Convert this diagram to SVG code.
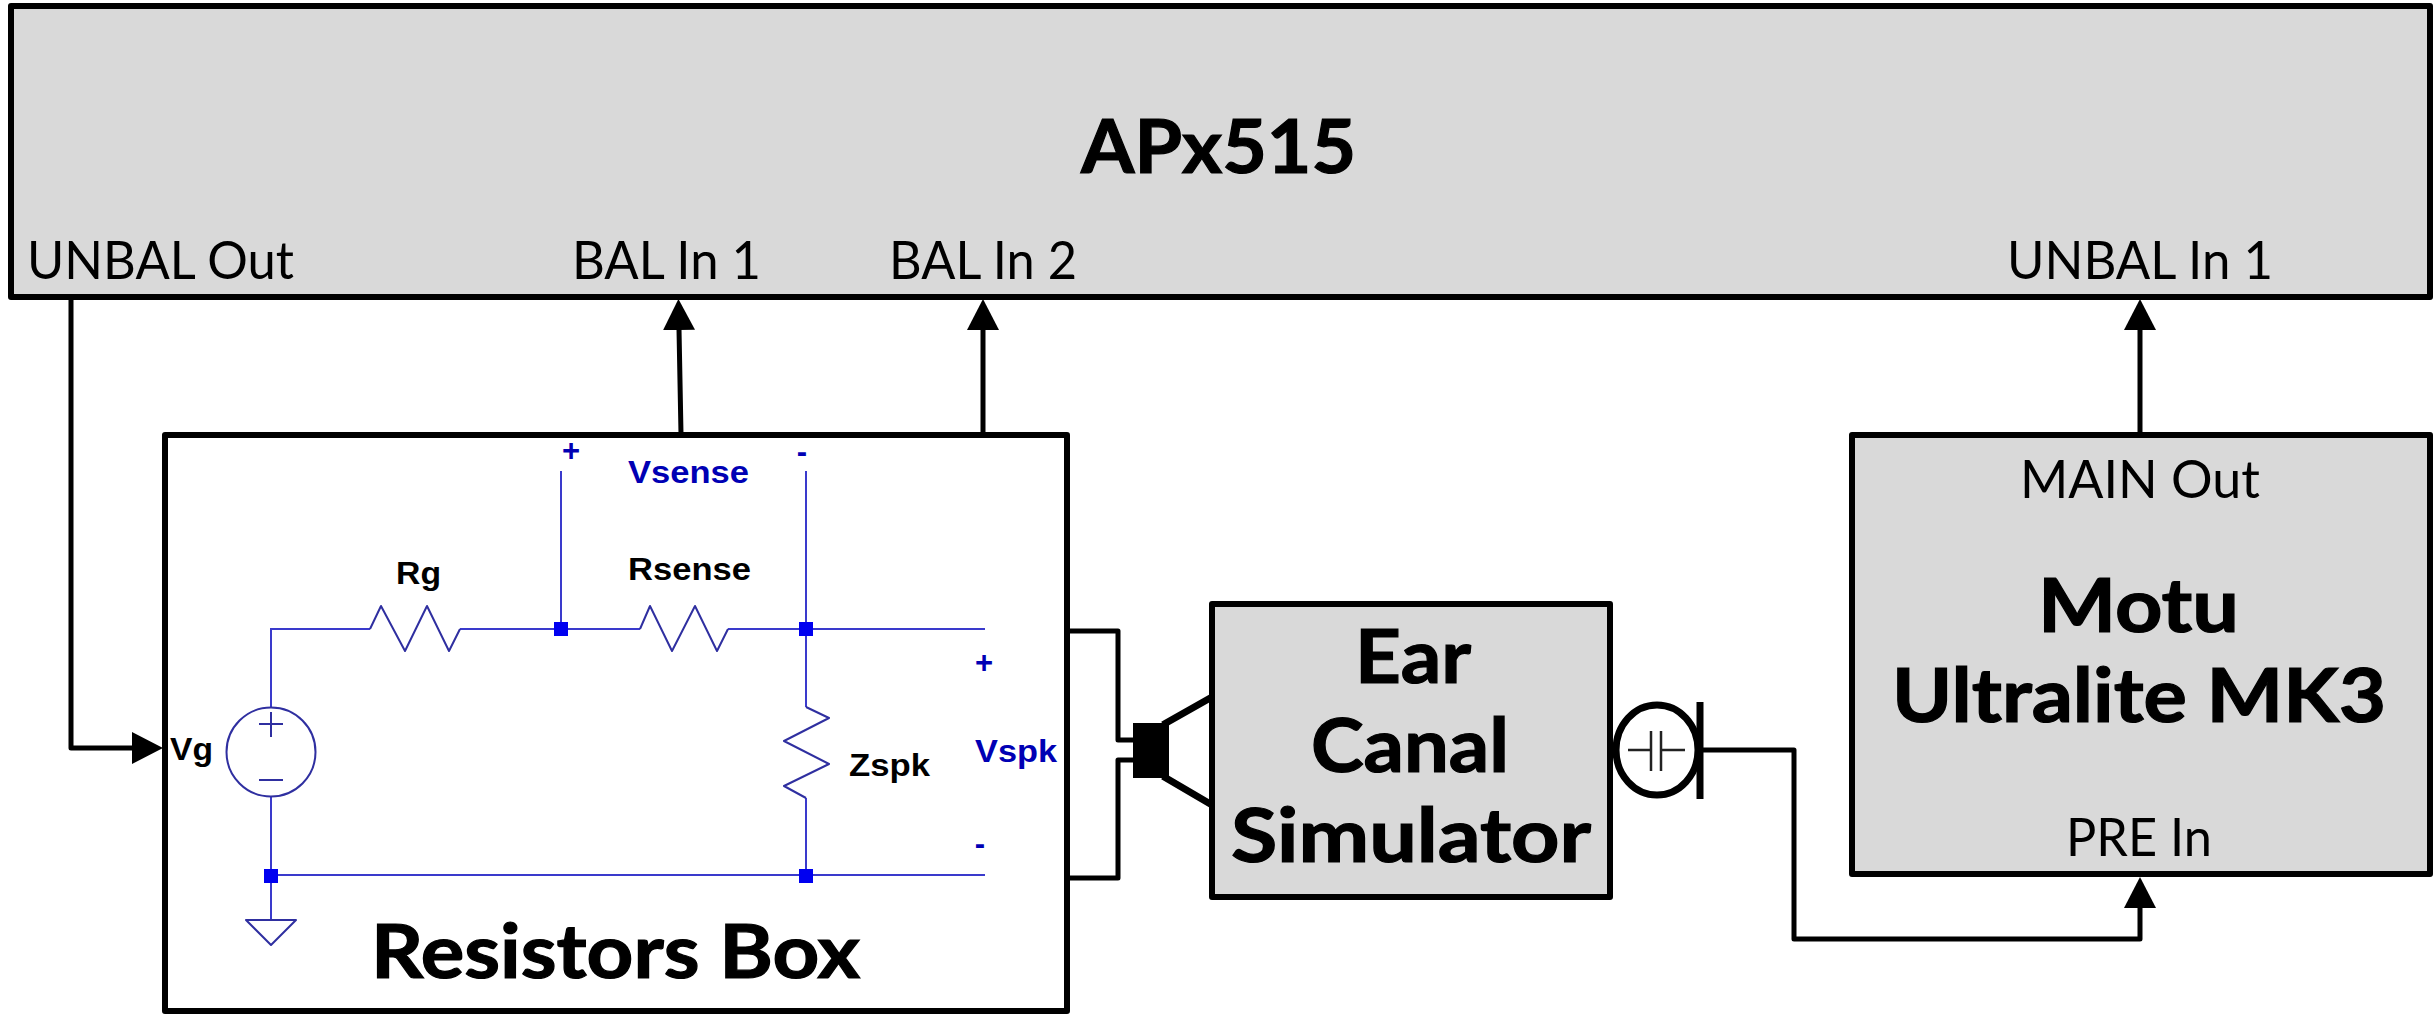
<svg xmlns="http://www.w3.org/2000/svg" width="2433" height="1016" viewBox="0 0 2433 1016">
<style>
.box{stroke:#000;stroke-width:6;stroke-linejoin:round}
.grey{fill:#d9d9d9}
.white{fill:#fff}
.t{font-family:Lato,"Open Sans","Liberation Sans",sans-serif;fill:#000}
.port{font-size:52px}
.big{font-size:74px;font-weight:700;stroke:#000;stroke-width:1.2px}
.sch{font-family:"Liberation Sans",Arial,sans-serif;font-size:31px;font-weight:700;fill:#000}
.blue{fill:#0000b4}
.wire{fill:none;stroke:#000;stroke-width:5;stroke-linejoin:round;stroke-linecap:square}
.b{fill:none;stroke:#3a3acc;stroke-width:2}
.r{fill:none;stroke:#2f2fa0;stroke-width:2;stroke-linejoin:round}
.dot{fill:#0000f0}
</style>
<defs>
<marker id="arrow" markerUnits="userSpaceOnUse" markerWidth="32" markerHeight="34" refX="1" refY="17" orient="auto" viewBox="0 0 32 34"><path d="M31 17L0 1V33Z" fill="#000"/></marker>
</defs>
<g id="apx515">
<rect class="box grey" x="11" y="6" width="2419" height="291"/>
<text class="t big" x="1081" y="173" textLength="275" lengthAdjust="spacingAndGlyphs">APx515</text>
<text class="t port" x="27" y="279" textLength="267" lengthAdjust="spacingAndGlyphs">UNBAL Out</text>
<text class="t port" x="572" y="279" textLength="189" lengthAdjust="spacingAndGlyphs">BAL In 1</text>
<text class="t port" x="889" y="279" textLength="188" lengthAdjust="spacingAndGlyphs">BAL In 2</text>
<text class="t port" x="2007" y="279" textLength="266" lengthAdjust="spacingAndGlyphs">UNBAL In 1</text>
</g>
<g id="resistors-box">
<rect class="box white" x="165" y="435" width="902" height="576"/>
<text class="t big" x="371" y="978" textLength="489" lengthAdjust="spacingAndGlyphs">Resistors Box</text>
<g id="schematic">
<path class="b" d="M271 707V629H370M460 629H640M728 629H985M561 629V471M806 471V707M806 798V875M271 796V875M271 875H985M271 875V920"/>
<path class="r" d="M370 629L381 606L405 651L427 606L449 651L460 629M640 629L650 606L672 651L695 606L717 651L728 629M806 707L829 718L784 741L829 764L784 786L806 798"/>
<circle class="r" cx="271" cy="752" r="44.5"/>
<path class="r" d="M271 712V737M259 724H283M259 780H283M246 920H296L271 945Z"/>
<rect class="dot" x="554" y="622" width="14" height="14"/>
<rect class="dot" x="799" y="622" width="14" height="14"/>
<rect class="dot" x="264" y="869" width="14" height="14"/>
<rect class="dot" x="799" y="869" width="14" height="14"/>
<text class="sch" x="396" y="584" textLength="45" lengthAdjust="spacingAndGlyphs">Rg</text>
<text class="sch" x="628" y="580" textLength="123" lengthAdjust="spacingAndGlyphs">Rsense</text>
<text class="sch" x="170" y="760" textLength="43" lengthAdjust="spacingAndGlyphs">Vg</text>
<text class="sch" x="849" y="776" textLength="81" lengthAdjust="spacingAndGlyphs">Zspk</text>
<text class="sch blue" x="628" y="483" textLength="121" lengthAdjust="spacingAndGlyphs">Vsense</text>
<text class="sch blue" x="975" y="762" textLength="82" lengthAdjust="spacingAndGlyphs">Vspk</text>
<text class="sch blue" x="571" y="461" text-anchor="middle">+</text>
<text class="sch blue" x="802" y="462" text-anchor="middle">-</text>
<text class="sch blue" x="984" y="673" text-anchor="middle">+</text>
<text class="sch blue" x="980" y="854" text-anchor="middle">-</text>
</g>
</g>
<g id="speaker">
<rect x="1133" y="723" width="36" height="55" fill="#000"/>
<path class="wire" d="M1166 723L1212 697M1166 778L1212 805" style="stroke-width:7"/>
</g>
<g id="ear-canal-simulator">
<rect class="box grey" x="1212" y="604" width="398" height="293"/>
<text class="t big" x="1355" y="683" textLength="116" lengthAdjust="spacingAndGlyphs">Ear</text>
<text class="t big" x="1311" y="772" textLength="198" lengthAdjust="spacingAndGlyphs">Canal</text>
<text class="t big" x="1231" y="862" textLength="360" lengthAdjust="spacingAndGlyphs">Simulator</text>
</g>
<g id="microphone">
<ellipse cx="1657" cy="750" rx="41" ry="45" fill="#fff" stroke="#000" stroke-width="7"/>
<path d="M1628 750H1651M1661 750H1685M1651 731V771M1661 731V771" fill="none" stroke="#222" stroke-width="2.5"/>
<path d="M1700 702V799" fill="none" stroke="#000" stroke-width="7"/>
</g>
<g id="motu">
<rect class="box grey" x="1852" y="435" width="578" height="439"/>
<text class="t port" x="2020" y="498" textLength="240" lengthAdjust="spacingAndGlyphs">MAIN Out</text>
<text class="t big" x="2038" y="632" textLength="201" lengthAdjust="spacingAndGlyphs">Motu</text>
<text class="t big" x="1892" y="722" textLength="494" lengthAdjust="spacingAndGlyphs">Ultralite MK3</text>
<text class="t port" x="2066" y="856" textLength="146" lengthAdjust="spacingAndGlyphs">PRE In</text>
</g>
<g id="connectors">
<path class="wire" d="M71 297V748H133" marker-end="url(#arrow)"/>
<path class="wire" d="M681 434L679 329" marker-end="url(#arrow)"/>
<path class="wire" d="M983 434V329" marker-end="url(#arrow)"/>
<path class="wire" d="M2140 434V329" marker-end="url(#arrow)"/>
<path class="wire" d="M1700 750H1794V939H2140V907" marker-end="url(#arrow)"/>
<path class="wire" d="M1067 631H1118V740H1133M1133 760H1118V878H1067"/>
</g>
</svg>
